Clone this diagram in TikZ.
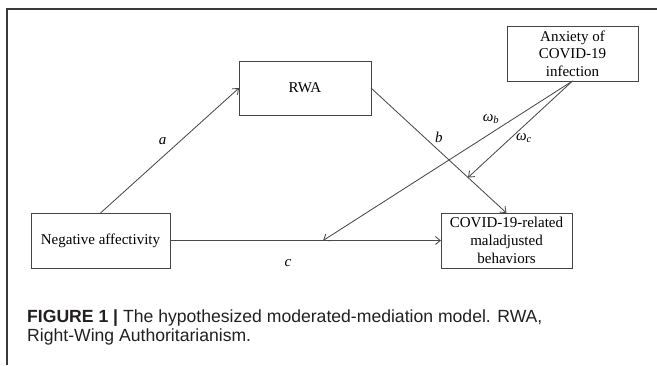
\documentclass[tikz,border=0pt]{standalone}
\usepackage{fontspec}
\setmainfont{Liberation Serif}
\newfontfamily\capfont{Liberation Sans}
\usetikzlibrary{arrows.meta, positioning, calc}
\definecolor{boxgray}{HTML}{454545}
\definecolor{linegray}{HTML}{4A4A4A}
\definecolor{framegray}{HTML}{3A3A3A}
\definecolor{captext}{HTML}{231F20}

\begin{document}
\begin{tikzpicture}[
    x=1pt, y=-1pt,
    every node/.style={font=\fontsize{15}{17.7}\selectfont},
    var/.style={draw=boxgray, line width=0.9pt, outer sep=0pt, minimum height=55pt, align=center, inner sep=2pt},
    path/.style={-{Straight Barb[length=5pt, width=8pt]}, draw=linegray, line width=0.85pt},
    coef/.style={inner sep=0pt, font=\fontsize{15}{17.7}\selectfont\itshape}
]
    \useasboundingbox (0,0) rectangle (657,365);
    % Frame
    \draw[framegray, line width=1.3pt] (657,9) -- (7,9) -- (7,365);

    % Variables
    \node[var, minimum width=139pt] (neg) at (100.5,240.5) {Negative affectivity};
    \node[var, minimum width=131pt, right=271pt of neg] (covid) {COVID-19-related\\maladjusted\\behaviors};
    \node[var, minimum width=132pt, minimum height=54pt, above right=98pt and 69pt of neg] (rwa) {RWA};
    \node[var, minimum width=131pt, above=132pt of covid, xshift=66pt] (anx) {Anxiety of\\COVID-19\\infection};

    % Moderation targets
    \coordinate (onc) at ($(neg.east)!0.565!(covid.west)$);
    \coordinate (onb) at ($(rwa.east)!0.716!(covid.north)$);

    % Paths
    \draw[path] (neg.north) -- node[coef, pos=0.448, yshift=15.5pt] {a} (rwa.west);
    \draw[path] (rwa.east) -- node[coef, pos=0.5, yshift=13pt] {b} (covid.north);
    \draw[path] (neg.east) -- node[coef, pos=0.435, yshift=-23pt] {c} (covid.west);
    \draw[path] (anx.south) -- node[coef, pos=0.327, yshift=14pt] {ω\textsubscript{b}} (onc);
    \draw[path] (anx.south) -- node[coef, pos=0.464, yshift=-12.5pt] {ω\textsubscript{c}} (onb);

    % Caption
    \node[anchor=base west, align=left, inner sep=0pt, text=captext, font=\capfont\fontsize{17.6}{19.2}\selectfont] (caption) at (27,341.3) {\textbf{FIGURE 1 |} The hypothesized moderated-mediation model. RWA,\\Right-Wing Authoritarianism.};
\end{tikzpicture}
\end{document}
